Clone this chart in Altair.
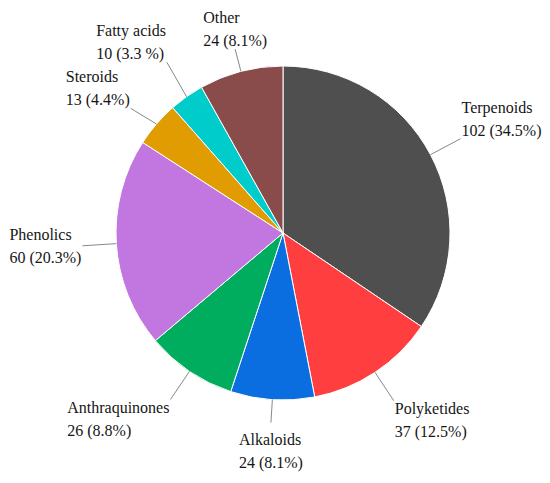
import altair as alt
import pandas as pd

categories = ["Terpenoids", "Polyketides", "Alkaloids", "Anthraquinones",
              "Phenolics", "Steroids", "Fatty acids", "Other"]
counts = [102, 37, 24, 26, 60, 13, 10, 24]
percent_labels = ["34.5%", "12.5%", "8.1%", "8.8%", "20.3%", "4.4%", "3.3 %", "8.1%"]
colors = ["#4f4f4f", "#ff3f3f", "#0a6ee0", "#00ad5f", "#c176e0", "#e09c00",
          "#00cccc", "#8a4b4b"]

FONT_SIZE = 16
# Times / Liberation Serif advance widths (per 1000 em), used to size label boxes
_W = {
    "T": 611, "P": 556, "A": 722, "S": 556, "F": 556, "O": 722,
    "a": 444, "c": 444, "d": 500, "e": 444, "f": 333, "h": 500, "i": 278,
    "k": 500, "l": 278, "n": 500, "o": 500, "p": 500, "q": 500, "r": 333,
    "s": 389, "t": 278, "u": 500, "y": 500, " ": 250, "(": 333, ")": 333,
    "%": 833, ".": 250,
}


def text_width(s):
    return sum(_W.get(c, 500) for c in s) * FONT_SIZE / 1000.0


second_lines = [f"{c} ({p})" for c, p in zip(counts, percent_labels)]
box_widths = [max(text_width(a), text_width(b)) for a, b in zip(categories, second_lines)]

df = pd.DataFrame({
    "category": categories,
    "count": counts,
    "line2": second_lines,
    "bw": box_widths,
    "order": list(range(len(categories))),
})

W, H = 534, 467
CX, CY, R = 275, 225, 167
R_SIDE, R_CENTER = 201, 190
MIN_GAP = 46
LINE_H = 23

base = alt.Chart(df)

pie = base.mark_arc(radius=R, stroke="white", strokeWidth=1).encode(
    theta=alt.Theta("count:Q", stack=True),
    color=alt.Color("category:N", scale=alt.Scale(domain=categories, range=colors), legend=None),
    order=alt.Order("order:Q"),
    x=alt.value(CX),
    y=alt.value(CY),
)

geo = (
    base.transform_window(cum="sum(count)", sort=[alt.SortField("order")], frame=[None, 0])
    .transform_joinaggregate(total="sum(count)")
    .transform_calculate(a="2*PI*(datum.cum - datum.count/2)/datum.total")
    .transform_calculate(
        side="sin(datum.a) > 0.3 ? 'R' : (sin(datum.a) < -0.3 ? 'L' : 'C')",
        vert="cos(datum.a) > 0.3 ? 'above' : (cos(datum.a) < -0.3 ? 'below' : 'mid')",
    )
    .transform_calculate(
        r2=f"datum.side == 'C' ? {R_CENTER} : {R_SIDE}",
    )
    .transform_calculate(
        x1=f"{CX}+{R}*sin(datum.a)",
        y1=f"{CY}-{R}*cos(datum.a)",
        x2=f"{CX}+datum.r2*sin(datum.a)",
        y2r=f"{CY}-datum.r2*cos(datum.a)",
    )
    .transform_window(
        prev_y="lag(y2r)", next_y="lead(y2r)",
        groupby=["side"], sort=[alt.SortField("y2r", order="ascending")],
    )
    .transform_calculate(
        y2=(
            f"datum.y2r"
            f" + (isValid(datum.prev_y) ? max(0, ({MIN_GAP} - (datum.y2r - datum.prev_y))/2) : 0)"
            f" - (isValid(datum.next_y) ? max(0, ({MIN_GAP} - (datum.next_y - datum.y2r))/2) : 0)"
        ),
        label="[datum.category, datum.line2]",
    )
    .transform_calculate(
        tx="datum.side == 'R' ? datum.x2 + 1 : (datum.side == 'L' ? datum.x2 - 1 - datum.bw : datum.x2 - datum.bw/2)",
        ty=(
            "datum.vert == 'above' ? datum.y2 - 26"
            " : (datum.vert == 'below' ? datum.y2 + (datum.side == 'C' ? 22 : 13) : datum.y2 - 6)"
        ),
    )
)

leaders = geo.mark_rule(color="#888888", strokeWidth=1).encode(
    x=alt.X("x1:Q", scale=None, axis=None),
    y=alt.Y("y1:Q", scale=None, axis=None),
    x2="x2:Q",
    y2="y2:Q",
)

labels = geo.mark_text(
    align="left", baseline="alphabetic", font="Liberation Serif",
    fontSize=FONT_SIZE, lineHeight=LINE_H, color="#151515",
).encode(
    x=alt.X("tx:Q", scale=None, axis=None),
    y=alt.Y("ty:Q", scale=None, axis=None),
    text=alt.Text("label:N"),
)

chart = alt.layer(pie, leaders, labels).properties(
    width=W, height=H, padding=0,
    autosize=alt.AutoSizeParams(type="none"),
).configure_view(stroke=None)

chart.save("out.html", embed_options={"renderer": "svg", "actions": False})
